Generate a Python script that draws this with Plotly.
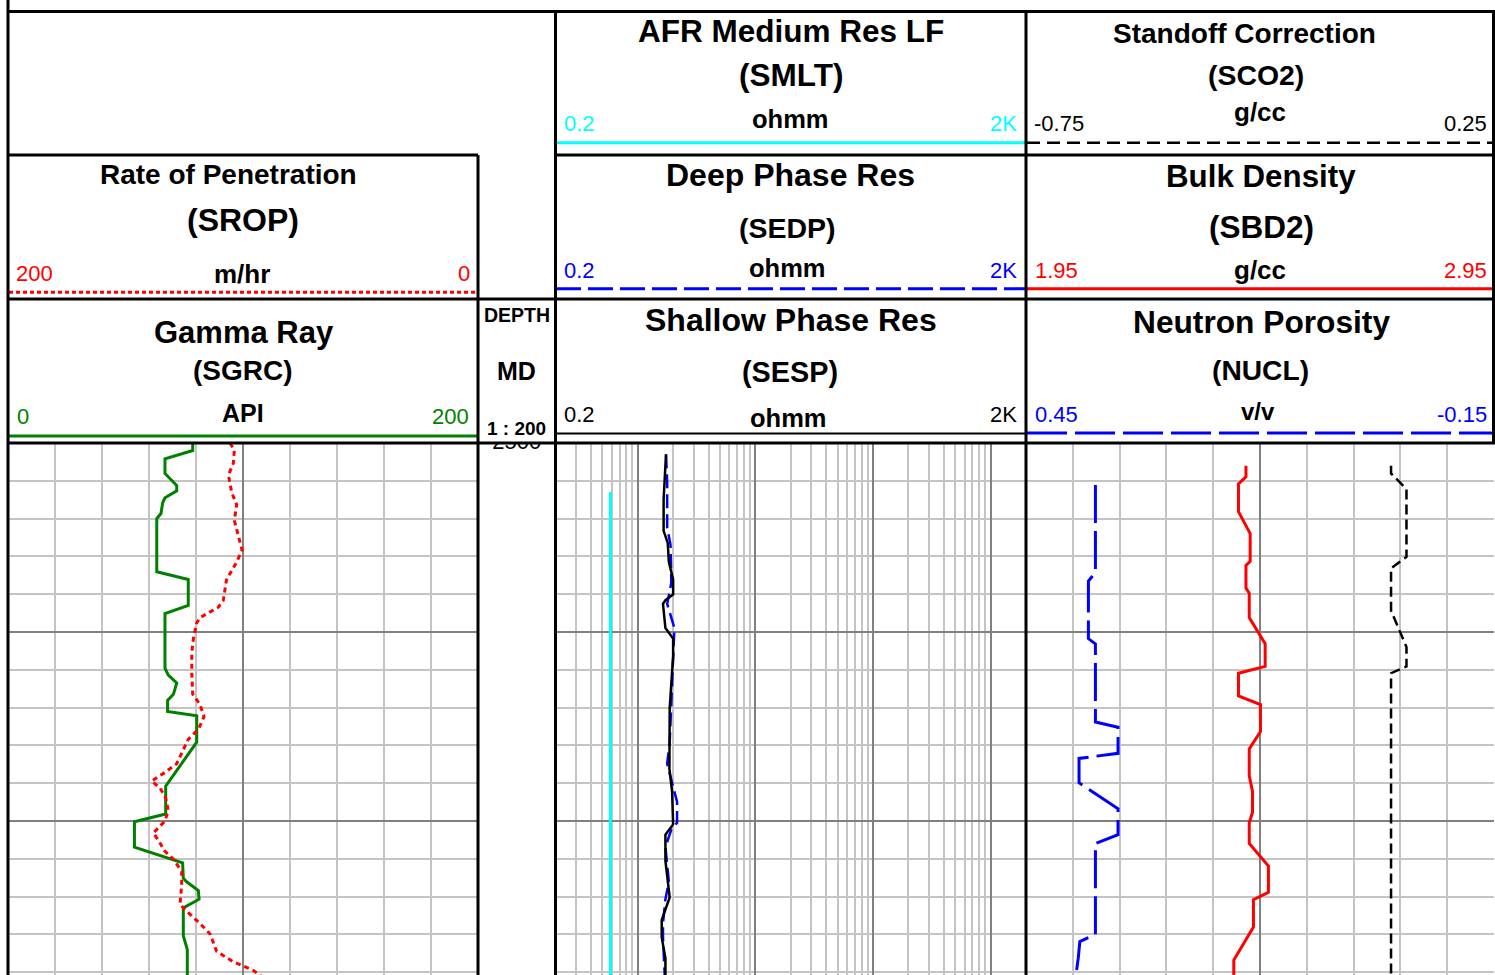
import plotly.graph_objects as go
import math

# ---------------- data ----------------
GR_DEPTH = [2500.0, 2500.4, 2500.84, 2501.61, 2502.25, 2502.53, 2502.9, 2503.17, 2503.73, 2504.0,
            2506.81, 2507.22, 2508.6, 2509.02, 2511.91, 2512.28, 2512.7, 2513.29, 2513.62, 2514.21,
            2514.43, 2515.83, 2518.16, 2519.63, 2520.04, 2521.38, 2522.21, 2523.03, 2523.22, 2523.68,
            2524.14, 2524.6, 2526.07, 2526.81, 2529.0]
GR = [78.6, 78.6, 66.8, 66.8, 71.8, 71.8, 66.8, 65.8, 65.1, 63.3,
      63.3, 76.7, 76.7, 66.8, 66.8, 68.2, 71.8, 70.4, 67.9, 67.9,
      80.3, 80.3, 67.1, 67.1, 53.8, 53.8, 74.3, 74.6, 76.0, 81.0,
      81.3, 74.6, 74.6, 76.3, 76.3]

ROP_DEPTH = [2500.0, 2500.4, 2501.06, 2501.7, 2502.62, 2503.27, 2504.1, 2504.83, 2505.66, 2506.3,
             2507.22, 2508.33, 2508.69, 2509.24, 2509.52, 2510.35, 2511.08, 2512.18, 2513.29, 2513.84,
             2514.48, 2515.13, 2515.68, 2516.23, 2516.97, 2517.43, 2517.89, 2518.25, 2518.8, 2519.45,
             2520.0, 2520.64, 2521.01, 2521.57, 2522.02, 2522.67, 2523.4, 2524.41, 2524.69, 2525.43,
             2525.98, 2526.44, 2526.9, 2527.45, 2527.91, 2528.15, 2529.0]
ROP = [105.5, 103.7, 104.1, 106.2, 104.8, 102.7, 103.7, 102.3, 100.4, 102.7,
       107.0, 108.4, 110.5, 118.3, 119.7, 121.1, 121.8, 121.8, 121.4, 118.3,
       116.6, 118.9, 123.3, 125.4, 128.2, 133.2, 138.9, 135.3, 132.9, 131.8,
       133.2, 138.2, 136.0, 133.5, 129.6, 126.1, 126.1, 126.8, 124.7, 118.3,
       114.0, 112.6, 111.2, 104.1, 95.6, 92.8, 85.0]

SMLT_DEPTH = [2502.59, 2510.0, 2520.0, 2529.0]
SMLT = [0.586, 0.586, 0.586, 0.586]

SESP_DEPTH = [2500.6, 2501.15, 2502.99, 2504.65, 2505.29, 2506.3, 2507.22, 2508.01, 2508.32, 2508.51,
              2509.79, 2510.35, 2511.27, 2514.03, 2517.25, 2518.45, 2520.18, 2520.73, 2522.11, 2524.04,
              2525.24, 2526.16, 2527.26, 2529.0]
SESP = [1.74, 1.72, 1.66, 1.66, 1.80, 1.84, 2.00, 2.00, 1.72, 1.64,
        1.72, 2.00, 2.00, 1.87, 1.86, 1.96, 2.00, 1.72, 1.72, 1.87,
        1.60, 1.60, 1.72, 1.72]

SEDP_DEPTH = [2500.6, 2502.07, 2504.46, 2505.38, 2507.4, 2508.51, 2509.79, 2510.71, 2515.86, 2516.97,
              2518.99, 2520.09, 2520.46, 2521.38, 2523.22, 2524.14, 2525.42, 2526.16, 2529.0]
SEDP = [1.74, 1.78, 1.78, 1.90, 1.93, 1.78, 2.05, 2.02, 1.87, 1.78,
        2.16, 2.16, 1.93, 1.72, 1.84, 1.72, 1.64, 1.64, 1.72]

NUCL_DEPTH = [2502.22, 2506.85, 2507.31, 2510.35, 2510.63, 2514.76, 2515.04, 2516.42, 2516.69, 2517.98,
              2519.35, 2520.73, 2521.19, 2526.01, 2526.38, 2527.26, 2528.15, 2529.0]
NUCL = [0.361, 0.361, 0.370, 0.370, 0.361, 0.361, 0.332, 0.332, 0.382, 0.382,
        0.332, 0.332, 0.361, 0.361, 0.381, 0.383, 0.386, 0.388]

SBD2_DEPTH = [2501.21, 2501.79, 2502.16, 2503.63, 2504.79, 2506.26, 2506.48, 2507.68, 2507.95, 2509.24,
              2510.62, 2511.82, 2512.18, 2513.38, 2513.84, 2515.27, 2516.19, 2517.61, 2518.44, 2519.54,
              2520.09, 2521.19, 2522.39, 2523.77, 2524.17, 2525.61, 2527.36, 2529.0]
SBD2 = [2.420, 2.420, 2.404, 2.404, 2.429, 2.429, 2.420, 2.420, 2.427, 2.427,
        2.461, 2.461, 2.404, 2.404, 2.451, 2.451, 2.427, 2.427, 2.434, 2.434,
        2.427, 2.427, 2.468, 2.468, 2.436, 2.436, 2.394, 2.394]

SCO2_DEPTH = [2501.21, 2501.61, 2502.44, 2506.02, 2506.63, 2508.87, 2510.8, 2511.82, 2512.18, 2529.0]
SCO2 = [0.030, 0.030, 0.063, 0.063, 0.030, 0.030, 0.063, 0.063, 0.030, 0.030]

DEPTH_LABELS = [2500]
DEPTH_TOP, DEPTH_BOTTOM = 2500.0, 2528.15

# grid tick values
GR_MAJOR = [100]
NUCL_MAJOR = [0.15]
NUCL_MINOR = [0.39, 0.33, 0.27, 0.21, 0.09, 0.03, -0.03, -0.09]
RES_MAJOR = [1, 10, 100, 1000]
RES_MINOR = [0.3, 0.4, 0.5, 0.6, 0.7, 0.8, 0.9, 2, 3, 4, 5, 6, 7, 8, 9,
             20, 30, 40, 50, 60, 70, 80, 90, 200, 300, 400, 500, 600, 700, 800, 900]

# ---------------- geometry helpers ----------------
W, H = 1495, 975
def X(px): return px / W
def Y(py): return 1 - py / H

FONT = "Liberation Sans, Arial, sans-serif"
MAJ = "#808080"
MIN = "#c4c4c4"

fig = go.Figure()

# traces
fig.add_trace(go.Scatter(x=GR, y=GR_DEPTH, xaxis="x", yaxis="y", mode="lines",
                         line=dict(color="#008000", width=3)))
fig.add_trace(go.Scatter(x=ROP, y=ROP_DEPTH, xaxis="x2", yaxis="y", mode="lines",
                         line=dict(color="#ff0000", width=3, dash="5px,4px")))
fig.add_trace(go.Scatter(x=[0.5] * len(DEPTH_LABELS), y=DEPTH_LABELS, xaxis="x3", yaxis="y2",
                         mode="text", text=[str(d) for d in DEPTH_LABELS], cliponaxis=True,
                         textfont=dict(family=FONT, size=22, color="black")))
fig.add_trace(go.Scatter(x=SMLT, y=SMLT_DEPTH, xaxis="x4", yaxis="y3", mode="lines",
                         line=dict(color="#00ffff", width=3)))
fig.add_trace(go.Scatter(x=SEDP, y=SEDP_DEPTH, xaxis="x4", yaxis="y3", mode="lines",
                         line=dict(color="#0000ff", width=2.5, dash="14px,6px")))
fig.add_trace(go.Scatter(x=SESP, y=SESP_DEPTH, xaxis="x4", yaxis="y3", mode="lines",
                         line=dict(color="black", width=2.5)))
fig.add_trace(go.Scatter(x=NUCL, y=NUCL_DEPTH, xaxis="x5", yaxis="y4", mode="lines",
                         line=dict(color="#0000ff", width=3, dash="38px,8px")))
fig.add_trace(go.Scatter(x=SBD2, y=SBD2_DEPTH, xaxis="x6", yaxis="y4", mode="lines",
                         line=dict(color="#ff0000", width=3)))
fig.add_trace(go.Scatter(x=SCO2, y=SCO2_DEPTH, xaxis="x7", yaxis="y4", mode="lines",
                         line=dict(color="black", width=2.5, dash="10px,5px")))

body_top = Y(443)
ydom = [0, body_top]
hidden = dict(showticklabels=False, ticks="", zeroline=False, showline=False)

def yax(grid=True):
    d = dict(domain=ydom, range=[DEPTH_BOTTOM, DEPTH_TOP], **hidden)
    if grid:
        d.update(showgrid=True, tick0=2500, dtick=10, gridcolor=MAJ, gridwidth=2,
                 minor=dict(tick0=2500, dtick=2, showgrid=True, gridcolor=MIN, gridwidth=1.5))
    else:
        d.update(showgrid=False)
    return d

layout = dict(
    width=W, height=H, margin=dict(l=0, r=0, t=0, b=0),
    paper_bgcolor="white", plot_bgcolor="white", showlegend=False,
    xaxis=dict(domain=[X(8), X(478)], range=[0, 200], anchor="y",
               tickmode="array", tickvals=GR_MAJOR, showgrid=True, gridcolor=MAJ, gridwidth=2,
               minor=dict(tick0=0, dtick=20, showgrid=True, gridcolor=MIN, gridwidth=1.5), **hidden),
    xaxis2=dict(overlaying="x", range=[200, 0], anchor="y", showgrid=False, **hidden),
    xaxis3=dict(domain=[X(478), X(555.5)], range=[0, 1], anchor="y2", showgrid=False, **hidden),
    xaxis4=dict(domain=[X(555.5), X(1026)], type="log", range=[math.log10(0.2), math.log10(2000)],
                anchor="y3", tickmode="array", tickvals=RES_MAJOR, showgrid=True, gridcolor=MAJ,
                gridwidth=2, minor=dict(tickmode="array", tickvals=RES_MINOR, showgrid=True,
                                        gridcolor=MIN, gridwidth=1.5), **hidden),
    xaxis5=dict(domain=[X(1026), X(1494)], range=[0.45, -0.15], anchor="y4",
                tickmode="array", tickvals=NUCL_MAJOR, showgrid=True, gridcolor=MAJ, gridwidth=2,
                minor=dict(tickmode="array", tickvals=NUCL_MINOR, showgrid=True, gridcolor=MIN,
                           gridwidth=1.5), **hidden),
    xaxis6=dict(overlaying="x5", range=[1.95, 2.95], anchor="y4", showgrid=False, **hidden),
    xaxis7=dict(overlaying="x5", range=[-0.75, 0.25], anchor="y4", showgrid=False, **hidden),
    yaxis=yax(), yaxis2=yax(False), yaxis3=yax(), yaxis4=yax(),
)
fig.update_layout(**layout)

# ---------------- frame & header swatches ----------------
shapes = []
def hline(y, x0, x1, color="black", width=3, dash="solid"):
    shapes.append(dict(type="line", xref="paper", yref="paper", x0=X(x0), x1=X(x1), y0=Y(y), y1=Y(y),
                       line=dict(color=color, width=width, dash=dash), layer="above"))
def vline(x, y0, y1, color="black", width=3):
    shapes.append(dict(type="line", xref="paper", yref="paper", x0=X(x), x1=X(x), y0=Y(y0), y1=Y(y1),
                       line=dict(color=color, width=width), layer="above"))

# header swatch lines
hline(292.3, 9, 477, "#ff0000", 3, "4px,3px")
hline(436, 9, 477, "#008000", 3)
hline(142.7, 556, 1025, "#00ffff", 3)
hline(288.7, 556, 1025, "#0000ff", 3, "25px,7px")
hline(433.5, 556, 1025, "black", 2)
hline(142.7, 1027, 1494, "black", 2.5, "13px,7px")
hline(288.7, 1027, 1494, "#ff0000", 3)
hline(433, 1027, 1494, "#0000ff", 3, "40px,8px")

# frame
hline(11.5, 8, 1495)
hline(155, 8, 478)
hline(155, 555.5, 1495)
hline(299, 8, 1495)
hline(443, 8, 1495)
vline(8, 0, 975)
vline(478, 155, 975)
vline(555.5, 11.5, 975)
vline(1026, 11.5, 975)
vline(1493.5, 11.5, 443)

fig.update_layout(shapes=shapes)

# ---------------- header texts ----------------
anns = []
def ann(text, x, y, size, color="black", bold=True, xanchor="center", family=FONT):
    anns.append(dict(text=text, x=X(x), y=Y(y), xref="paper", yref="paper", showarrow=False,
                     xanchor=xanchor, yanchor="middle",
                     font=dict(family=family, size=size, color=color,
                               weight="bold" if bold else "normal")))

# track 1
ann("Rate of Penetration", 228, 174, 28)
ann("(SROP)", 243, 220, 32)
ann("m/hr", 242, 274, 26)
ann("200", 14, 273, 22, "#ff0000", False, "left")
ann("0", 471.5, 273, 22, "#ff0000", False, "right")
ann("Gamma Ray", 243.5, 332.5, 31)
ann("(SGRC)", 243, 370, 28)
ann("API", 243, 413, 25)
ann("0", 15, 416.5, 22, "#008000", False, "left")
ann("200", 471, 416.5, 22, "#008000", False, "right")

# depth column
ann("DEPTH", 516.5, 315, 19.5)
ann("MD", 516.5, 371, 25)
ann("1 : 200", 516.5, 428, 19)

# track 2
ann("AFR Medium Res LF", 790.5, 31, 31.5)
ann("(SMLT)", 790.5, 75, 31.5)
ann("ohmm", 790.5, 119, 25.5)
ann("0.2", 561.7, 123.5, 22, "#00ffff", False, "left")
ann("2K", 1018.5, 123.5, 22, "#00ffff", False, "right")
ann("Deep Phase Res", 790, 175.5, 32)
ann("(SEDP)", 787, 227.5, 28.5)
ann("ohmm", 787.5, 268, 25.5)
ann("0.2", 561.7, 270, 22, "#0000ff", False, "left")
ann("2K", 1018.5, 270, 22, "#0000ff", False, "right")
ann("Shallow Phase Res", 790.5, 320, 32)
ann("(SESP)", 790, 372, 28.8)
ann("ohmm", 788, 418, 25.5)
ann("0.2", 561.7, 414, 22, "black", False, "left")
ann("2K", 1018.5, 414, 22, "black", False, "right")

# track 3
ann("Standoff Correction", 1244.5, 33.5, 28)
ann("(SCO2)", 1256, 75, 28.4)
ann("g/cc", 1260, 112, 26)
ann("-0.75", 1032.3, 124, 22, "black", False, "left")
ann("0.25", 1489.3, 124, 22, "black", False, "right")
ann("Bulk Density", 1261, 176, 31.3)
ann("(SBD2)", 1261, 226.5, 31.5)
ann("g/cc", 1260, 270, 26)
ann("1.95", 1032.7, 270, 22, "#ff0000", False, "left")
ann("2.95", 1489.3, 270, 22, "#ff0000", False, "right")
ann("Neutron Porosity", 1261.5, 322, 31.7)
ann("(NUCL)", 1260.5, 370, 28.2)
ann("v/v", 1258, 412, 24)
ann("0.45", 1032.7, 414, 22, "#0000ff", False, "left")
ann("-0.15", 1489.3, 414, 22, "#0000ff", False, "right")

fig.update_layout(annotations=anns)

fig.write_html("out.html")
